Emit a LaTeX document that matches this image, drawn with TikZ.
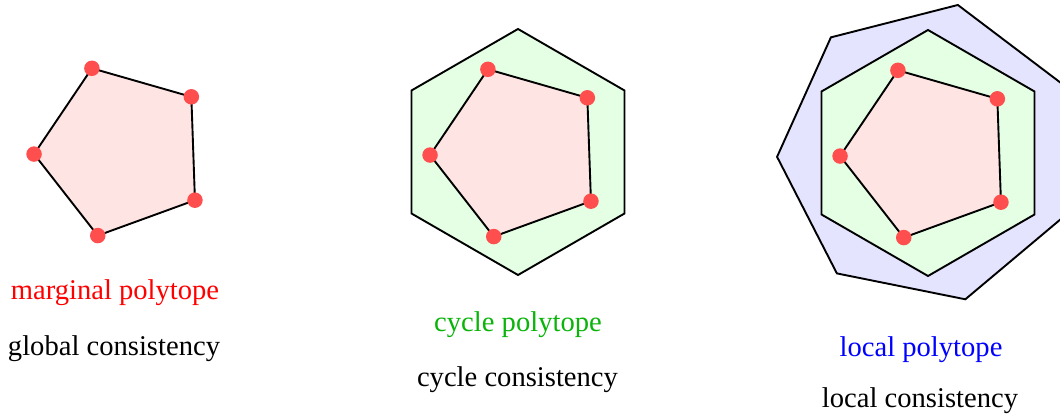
\documentclass[tikz,border=0pt]{standalone}
\usepackage{fontspec}
\setmainfont{Liberation Serif}
\usetikzlibrary{calc}
\definecolor{pinkfill}{RGB}{255,228,228}
\definecolor{greenfill}{RGB}{228,255,228}
\definecolor{bluefill}{RGB}{228,228,255}
\definecolor{dotred}{RGB}{255,78,78}
\definecolor{txtred}{RGB}{255,0,0}
\definecolor{txtgreen}{RGB}{10,180,10}
\definecolor{txtblue}{RGB}{0,0,255}
\tikzset{
  edge/.style={draw=black, line width=1.9pt, line join=miter},
  vdot/.style={circle, fill=dotred, minimum size=15.5pt, inner sep=0pt},
  lbl/.style={anchor=base, inner sep=0pt, font=\fontsize{28.6}{34}\selectfont}
}
\begin{document}
\begin{tikzpicture}[x=1pt,y=1pt]
\useasboundingbox (0,0) rectangle (1060,414);
\clip (0,0) rectangle (1060,414);
% centres
\coordinate (c1) at (122,263);
\coordinate (c2) at (518,262);
\coordinate (c3) at (928,261);
% local polytope (heptagon)
\foreach \k in {0,...,6}{\coordinate (h\k) at ($(c3)+({78.6+51.4286*\k}:151)$);}
\draw[edge, fill=bluefill] (h0)--(h1)--(h2)--(h3)--(h4)--(h5)--(h6)--cycle;
% cycle polytopes (hexagons)
\foreach \c in {2,3}{
  \foreach \k in {0,...,5}{\coordinate (x\c\k) at ($(c\c)+({90+60*\k}:123)$);}
  \draw[edge, fill=greenfill] (x\c0)--(x\c1)--(x\c2)--(x\c3)--(x\c4)--(x\c5)--cycle;
}
% marginal polytopes (pentagons)
\foreach \c in {1,2,3}{
  \foreach \k in {0,...,4}{\coordinate (p\c\k) at ($(c\c)+({110-72*\k}:88)$);}
  \draw[edge, fill=pinkfill] (p\c0)--(p\c1)--(p\c2)--(p\c3)--(p\c4)--cycle;
  \foreach \k in {0,...,4}{\node[vdot] (d\c\k) at (p\c\k) {};}
}
% labels
\node[lbl, text=txtred] (m1) at (115,114) {marginal polytope};
\node[lbl] (g1) at (114,58) {global consistency};
\node[lbl, text=txtgreen] (m2) at (518,82) {cycle polytope};
\node[lbl] (g2) at (517.5,27) {cycle consistency};
\node[lbl, text=txtblue] (m3) at (921,57) {local polytope};
\node[lbl] (g3) at (920,6.5) {local consistency};
\end{tikzpicture}
\end{document}
